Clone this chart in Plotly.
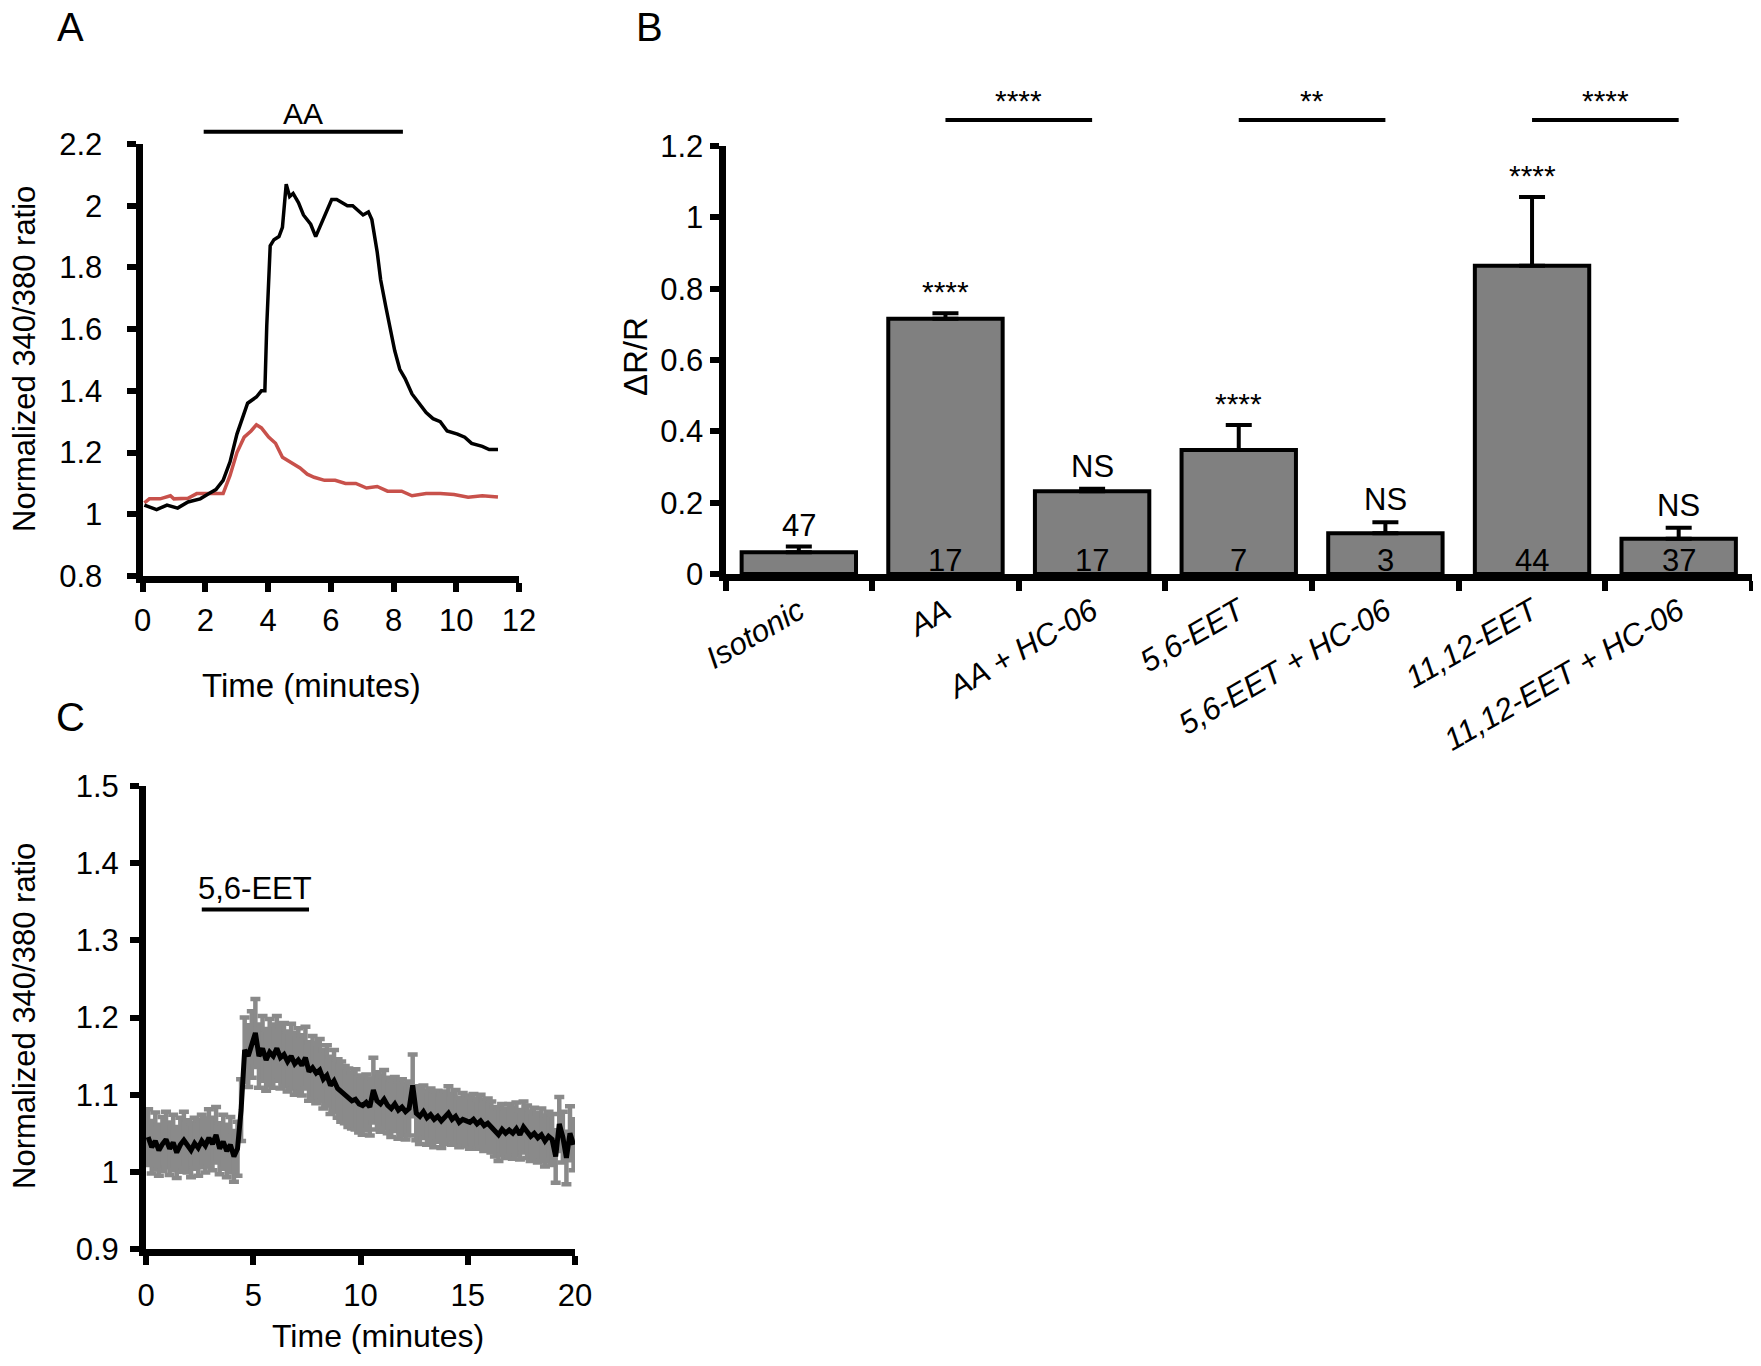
import plotly.graph_objects as go

# ---------------- Panel A data (time in minutes, normalized 340/380 ratio) ----------------
a_black_t = [0.06, 0.45, 0.78, 1.12, 1.45, 1.84, 2.12, 2.34, 2.57, 2.79, 3.01, 3.35, 3.63, 3.79, 3.90,
             3.96, 4.07, 4.19, 4.35, 4.46, 4.58, 4.69, 4.80, 4.97, 5.13, 5.36, 5.52, 5.69, 6.03, 6.19,
             6.36, 6.53, 6.70, 6.86, 7.03, 7.20, 7.31, 7.48, 7.59, 7.76, 7.92, 8.04, 8.20, 8.37, 8.59,
             8.82, 9.04, 9.26, 9.49, 9.71, 10.04, 10.27, 10.49, 10.83, 11.05, 11.33]
a_black_v = [1.03, 1.015, 1.03, 1.02, 1.04, 1.05, 1.067, 1.08, 1.11, 1.17, 1.26, 1.36, 1.38, 1.40, 1.40,
             1.61, 1.87, 1.89, 1.90, 1.93, 2.07, 2.03, 2.04, 2.01, 1.97, 1.94, 1.90, 1.94, 2.02, 2.02,
             2.01, 2.00, 2.00, 1.985, 1.97, 1.98, 1.955, 1.85, 1.76, 1.67, 1.585, 1.53, 1.47, 1.44, 1.39,
             1.36, 1.33, 1.31, 1.30, 1.27, 1.26, 1.25, 1.23, 1.22, 1.21, 1.21]
a_red_t = [0.06, 0.22, 0.56, 0.89, 1.0, 1.45, 1.73, 2.0, 2.34, 2.57, 2.79, 3.01, 3.24, 3.46, 3.63,
           3.79, 4.02, 4.24, 4.46, 4.69, 5.02, 5.25, 5.47, 5.8, 6.14, 6.47, 6.8, 7.14, 7.48, 7.81,
           8.26, 8.59, 9.04, 9.49, 9.93, 10.38, 10.83, 11.33]
a_red_v = [1.037, 1.05, 1.05, 1.06, 1.05, 1.052, 1.067, 1.067, 1.067, 1.067, 1.126, 1.2, 1.25, 1.27, 1.29,
           1.28, 1.25, 1.23, 1.185, 1.17, 1.15, 1.13, 1.12, 1.11, 1.11, 1.10, 1.10, 1.085, 1.09, 1.075,
           1.075, 1.06, 1.067, 1.067, 1.064, 1.055, 1.06, 1.056]
aa_period = [1.95, 8.3]
a_xticks = [0, 2, 4, 6, 8, 10, 12]
a_yticks = [0.8, 1.0, 1.2, 1.4, 1.6, 1.8, 2.0, 2.2]
a_yticklabels = ["0.8", "1", "1.2", "1.4", "1.6", "1.8", "2", "2.2"]

# ---------------- Panel B data ----------------
b_categories = ["Isotonic", "AA", "AA + HC-06", "5,6-EET", "5,6-EET + HC-06", "11,12-EET", "11,12-EET + HC-06"]
b_means = [0.061, 0.716, 0.232, 0.348, 0.114, 0.864, 0.099]
b_sem = [0.016, 0.015, 0.007, 0.070, 0.031, 0.193, 0.031]
b_n = ["47", "17", "17", "7", "3", "44", "37"]
b_n_above = [True, False, False, False, False, False, False]
b_sig = ["", "****", "NS", "****", "NS", "****", "NS"]
b_pairs = [("AA", "AA + HC-06"), ("5,6-EET", "5,6-EET + HC-06"), ("11,12-EET", "11,12-EET + HC-06")]
b_pair_sig = ["****", "**", "****"]
b_pair_level = 1.273
b_yticks = [0, 0.2, 0.4, 0.6, 0.8, 1.0, 1.2]
b_yticklabels = ["0", "0.2", "0.4", "0.6", "0.8", "1", "1.2"]

# ---------------- Panel C data (mean +/- SEM, sampled every 10 s from 0.1 min) ----------------
c_start = 0.1
c_step = 1 / 6
c_mean = [1.045, 1.032, 1.040, 1.028, 1.036, 1.042,
          1.030, 1.038, 1.025, 1.035, 1.041, 1.033,
          1.028, 1.037, 1.031, 1.040, 1.034, 1.044,
          1.036, 1.048, 1.030, 1.039, 1.027, 1.035,
          1.020, 1.030, 1.080, 1.158, 1.150, 1.165,
          1.180, 1.150, 1.160, 1.145, 1.155, 1.150,
          1.160, 1.148, 1.152, 1.143, 1.150, 1.140,
          1.145, 1.138, 1.148, 1.130, 1.135, 1.128,
          1.132, 1.120, 1.125, 1.112, 1.118, 1.108,
          1.104, 1.100, 1.096, 1.092, 1.094, 1.088,
          1.086, 1.090, 1.084, 1.106, 1.092, 1.088,
          1.094, 1.086, 1.082, 1.088, 1.080, 1.084,
          1.078, 1.082, 1.112, 1.076, 1.072, 1.078,
          1.070, 1.074, 1.068, 1.072, 1.066, 1.070,
          1.076, 1.068, 1.072, 1.064, 1.068, 1.066,
          1.064, 1.068, 1.062, 1.066, 1.060, 1.063,
          1.058, 1.052, 1.048, 1.055, 1.050, 1.054,
          1.050, 1.056, 1.048, 1.058, 1.052, 1.046,
          1.050, 1.044, 1.048, 1.040, 1.046, 1.042,
          1.020, 1.062, 1.045, 1.018, 1.050, 1.035]
c_sem = [0.036, 0.034, 0.037, 0.033, 0.035, 0.036,
         0.034, 0.036, 0.033, 0.035, 0.037, 0.034,
         0.035, 0.033, 0.036, 0.034, 0.035, 0.037,
         0.034, 0.036, 0.033, 0.035, 0.034, 0.036,
         0.033, 0.035, 0.040, 0.042, 0.040, 0.043,
         0.044, 0.041, 0.042, 0.040, 0.043, 0.041,
         0.042, 0.040, 0.041, 0.039, 0.042, 0.040,
         0.041, 0.039, 0.040, 0.038, 0.041, 0.039,
         0.040, 0.038, 0.039, 0.037, 0.040, 0.038,
         0.039, 0.037, 0.038, 0.036, 0.039, 0.037,
         0.038, 0.036, 0.037, 0.042, 0.037, 0.036,
         0.038, 0.036, 0.037, 0.035, 0.037, 0.036,
         0.036, 0.035, 0.040, 0.035, 0.036, 0.034,
         0.035, 0.034, 0.036, 0.033, 0.035, 0.034,
         0.035, 0.033, 0.034, 0.032, 0.034, 0.033,
         0.034, 0.033, 0.032, 0.034, 0.033, 0.032,
         0.033, 0.032, 0.034, 0.033, 0.032, 0.034,
         0.033, 0.034, 0.032, 0.033, 0.034, 0.032,
         0.033, 0.032, 0.034, 0.033, 0.032, 0.033,
         0.034, 0.035, 0.033, 0.034, 0.035, 0.033]
c_t = [c_start + i * c_step for i in range(len(c_mean))]
eet_period = [2.6, 7.6]
eet_level = 1.34
c_xticks = [0, 5, 10, 15, 20]
c_yticks = [0.9, 1.0, 1.1, 1.2, 1.3, 1.4, 1.5]
c_yticklabels = ["0.9", "1", "1.1", "1.2", "1.3", "1.4", "1.5"]

# ---------------- Layout geometry (page pixels -> paper, page body has an 8 px margin) ----------------
OFF, W, H = 8, 1745, 1350


def px_x(px):
    return min(1.0, max(0.0, (px - OFF) / W))


def px_y(py):
    return min(1.0, max(0.0, 1 - (py - OFF) / H))


A_x, A_y, A_xr, A_yr = [px_x(142.5), px_x(519)], [px_y(576), px_y(144)], [0, 12], [0.8, 2.2]
B_x, B_y, B_yr = [px_x(725.5), px_x(1752)], [px_y(574), px_y(146)], [0, 1.2]
C_x, C_y, C_xr, C_yr = [px_x(146), px_x(575)], [px_y(1249), px_y(786)], [0, 20], [0.9, 1.5]

FONT = "Liberation Sans, Arial, sans-serif"
NARROW = "Liberation Sans Narrow, Arial Narrow, Liberation Sans, sans-serif"


def yp(v, rng, dom):
    return dom[0] + (v - rng[0]) / (rng[1] - rng[0]) * (dom[1] - dom[0])


fig = go.Figure()

# Panel A traces
fig.add_trace(go.Scatter(x=a_red_t, y=a_red_v, mode="lines", line=dict(color="#c8514b", width=3.5),
                         xaxis="x", yaxis="y"))
fig.add_trace(go.Scatter(x=a_black_t, y=a_black_v, mode="lines", line=dict(color="black", width=3.5),
                         xaxis="x", yaxis="y"))

# Panel B bars
fig.add_trace(go.Bar(x=b_categories, y=b_means, width=0.78,
                     marker=dict(color="#808080", line=dict(color="black", width=4)),
                     error_y=dict(type="data", array=b_sem, arrayminus=[0] * len(b_sem), symmetric=False,
                                  color="black", thickness=4, width=13),
                     xaxis="x2", yaxis="y2"))

# Panel C traces: SEM error bars, then mean line on top
fig.add_trace(go.Scatter(x=c_t, y=c_mean, mode="markers",
                         marker=dict(size=1, color="rgba(0,0,0,0)"),
                         error_y=dict(type="data", array=c_sem, color="#8a8a8a", thickness=4.5, width=5),
                         xaxis="x3", yaxis="y3"))
fig.add_trace(go.Scatter(x=c_t, y=c_mean, mode="lines", line=dict(color="black", width=5),
                         xaxis="x3", yaxis="y3"))

axis_common = dict(showline=True, linecolor="black", linewidth=7, ticks="outside", ticklen=9,
                   tickwidth=6, tickcolor="black", showgrid=False, zeroline=False, automargin=False,
                   tickfont=dict(family=FONT, size=31, color="black"))

fig.update_layout(
    width=W, height=H, margin=dict(l=0, r=0, t=0, b=0, pad=0, autoexpand=False),
    paper_bgcolor="white", plot_bgcolor="white", showlegend=False,
    xaxis=dict(domain=A_x, range=A_xr, anchor="y", tickmode="array", tickvals=a_xticks,
               ticklabelstandoff=2, **axis_common),
    yaxis=dict(domain=A_y, range=A_yr, anchor="x", tickmode="array", tickvals=a_yticks,
               ticktext=a_yticklabels, ticklabelstandoff=18, **axis_common),
    xaxis2=dict(domain=B_x, anchor="y2", type="category", range=[-0.5, len(b_categories) - 0.5],
                tickson="boundaries", tickangle=-30, showline=True, linecolor="black", linewidth=7,
                ticks="outside", ticklen=10, tickwidth=6, tickcolor="black", showgrid=False,
                zeroline=False, automargin=False,
                tickfont=dict(family=NARROW, size=31, color="black", style="italic")),
    yaxis2=dict(domain=B_y, range=B_yr, anchor="x2", tickmode="array", tickvals=b_yticks,
                ticktext=b_yticklabels, showline=True, linecolor="black", linewidth=7,
                ticks="outside", ticklen=9, tickwidth=6, tickcolor="black", showgrid=False,
                zeroline=False, automargin=False, tickfont=dict(family=NARROW, size=31, color="black")),
    xaxis3=dict(domain=C_x, range=C_xr, anchor="y3", tickmode="array", tickvals=c_xticks,
                ticklabelstandoff=4, **axis_common),
    yaxis3=dict(domain=C_y, range=C_yr, anchor="x3", tickmode="array", tickvals=c_yticks,
                ticktext=c_yticklabels, ticklabelstandoff=5, **axis_common),
)

ann = []
shapes = []


def label(text, x, y, xref="paper", yref="paper", size=33, family=FONT, angle=0,
          xanchor="center", yanchor="middle", yshift=0):
    return dict(text=text, x=x, y=y, xref=xref, yref=yref, xanchor=xanchor, yanchor=yanchor,
                yshift=yshift, showarrow=False, textangle=angle,
                font=dict(family=family, size=size, color="black"))


# Panel letters
for letter, x, y in [("A", 70, 27), ("B", 649, 27), ("C", 70, 717)]:
    ann.append(label(letter, px_x(x), px_y(y), size=40))

# Axis titles
ann += [
    label("Normalized 340/380 ratio", px_x(24), px_y(359), angle=-90, size=31),
    label("Time (minutes)", px_x(311), px_y(685)),
    label("Normalized 340/380 ratio", px_x(24), px_y(1016), angle=-90, size=31),
    label("Time (minutes)", px_x(378), px_y(1336), size=32),
    label("ΔR/R", px_x(635), px_y(357), angle=-90, family=NARROW),
]

# Panel A: AA application bar
aa_level = 2.24
shapes.append(dict(type="line", xref="x", yref="paper", x0=aa_period[0], x1=aa_period[1],
                   y0=yp(aa_level, A_yr, A_y), y1=yp(aa_level, A_yr, A_y),
                   line=dict(color="black", width=4)))
ann.append(label("AA", (aa_period[0] + aa_period[1]) / 2, yp(2.30, A_yr, A_y), xref="x", size=30))

# Panel B: n numbers and significance
for cat, m, s, n, above, sig in zip(b_categories, b_means, b_sem, b_n, b_n_above, b_sig):
    if above:
        ann.append(label(n, cat, m + s, xref="x2", yref="y2", yanchor="bottom", yshift=2,
                         size=31, family=NARROW))
    else:
        ann.append(label(n, cat, 0, xref="x2", yref="y2", yanchor="bottom", yshift=-6,
                         size=31, family=NARROW))
    if sig:
        size = 30 if sig.startswith("*") else 31
        ann.append(label(sig, cat, m + s, xref="x2", yref="y2", yanchor="bottom", yshift=3,
                         size=size, family=FONT))

for (c0, c1), sig in zip(b_pairs, b_pair_sig):
    y_line = yp(b_pair_level, B_yr, B_y)
    shapes.append(dict(type="line", xref="x2", yref="paper", x0=c0, x1=c1, y0=y_line, y1=y_line,
                       line=dict(color="black", width=4)))
    i0, i1 = b_categories.index(c0), b_categories.index(c1)
    ann.append(label(sig, (i0 + i1) / 2, y_line, xref="x2", yanchor="bottom", yshift=1, size=30))

# Panel C: 5,6-EET application bar
shapes.append(dict(type="line", xref="x3", yref="y3", x0=eet_period[0], x1=eet_period[1],
                   y0=eet_level, y1=eet_level, line=dict(color="black", width=4)))
ann.append(label("5,6-EET", (eet_period[0] + eet_period[1]) / 2, eet_level, xref="x3", yref="y3",
                 yanchor="bottom", yshift=1, size=31))

fig.update_layout(annotations=ann, shapes=shapes)
fig.write_html("out.html")
